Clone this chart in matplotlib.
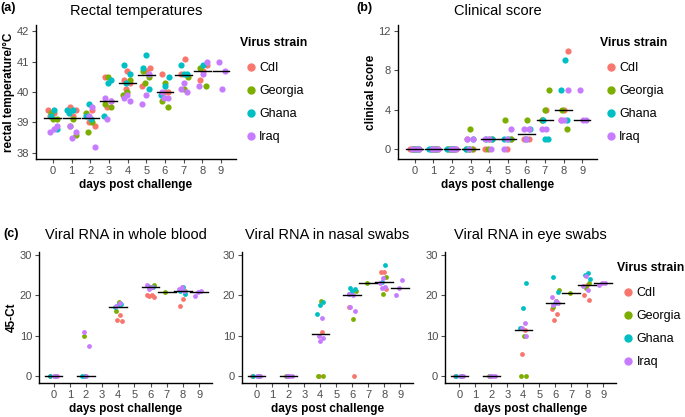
import matplotlib
matplotlib.use('Agg')
import matplotlib.pyplot as plt
from matplotlib.lines import Line2D
import numpy as np

plt.rcParams['font.family'] = ['Liberation Sans', 'DejaVu Sans']

strains = ['CdI', 'Georgia', 'Ghana', 'Iraq']
colors = ['#F8766D', '#7CAE00', '#00BFC4', '#C77CFF']
days = list(range(10))

# (a) rectal temperatures per day
temp_cdi = {0: [39.4, 39.3, 39.2], 1: [39.5, 39.4, 39.2], 2: [39.4, 39.0, 38.9], 3: [40.5, 39.7, 39.5],
            4: [40.7, 40.4, 40.3, 40.1], 5: [40.8, 40.7, 40.2], 6: [40.6, 40.0, 40.0], 7: [41.1, 40.6],
            8: [40.9, 40.7, 40.4]}
temp_georgia = {0: [39.3, 39.1, 39.1], 1: [39.1, 38.9, 38.6], 2: [39.3, 39.0, 38.7], 3: [40.5, 39.6, 39.5],
                4: [40.4, 40.0, 39.9], 5: [40.7, 40.5, 40.3], 6: [40.3, 39.7, 39.5], 7: [40.5, 40.1],
                8: [40.8, 40.2]}
temp_ghana = {0: [39.4, 39.2, 38.8], 1: [39.4, 39.4, 39.3], 2: [39.6, 39.2, 39.1], 3: [40.4, 40.3, 39.2],
              4: [40.9, 40.6, 40.3], 5: [41.2, 40.8, 40.1], 6: [40.5, 40.2, 39.9], 7: [40.9, 40.6, 40.6],
              8: [40.9]}
temp_iraq = {0: [38.9, 38.8, 38.7], 1: [38.9, 38.7, 38.5], 2: [39.5, 39.2, 38.2], 3: [39.8, 39.7, 39.1],
             4: [39.9, 39.8, 39.7], 5: [40.6, 39.9, 39.6], 6: [40.0, 39.8, 39.8], 7: [40.3, 40.1, 40.0],
             8: [41.0, 40.6, 40.2], 9: [41.0, 40.7, 40.1]}

# (b) clinical score
score_cdi = {0: [0, 0, 0], 1: [0, 0, 0], 2: [0, 0, 0], 3: [1, 0, 0], 4: [1, 0], 5: [1, 0], 6: [1, 1],
             7: [4, 3], 8: [10, 4, 3]}
score_georgia = {0: [0, 0, 0], 1: [0, 0, 0], 2: [0, 0, 0], 3: [2, 0, 0], 4: [1, 0], 5: [3, 1], 6: [3],
                 7: [6, 4, 3], 8: [4, 2]}
score_ghana = {0: [0, 0, 0], 1: [0, 0, 0], 2: [0, 0, 0], 3: [1, 0, 0], 4: [1, 1], 5: [1, 1], 6: [2, 1],
               7: [3, 1, 1], 8: [9, 6, 3]}
score_iraq = {0: [0, 0, 0], 1: [0, 0, 0], 2: [0, 0, 0], 3: [1, 1, 0], 4: [1, 1, 0], 5: [2, 1, 0],
              6: [2, 2, 1], 7: [2, 2], 8: [6, 3, 3], 9: [6, 3, 3]}

# (c) viral RNA, 45-Ct
blood_cdi = {0: [0, 0], 2: [0], 4: [15.0, 14.0, 13.7], 6: [20.2, 20.0, 19.8, 19.5], 8: [19.1, 17.3]}
blood_georgia = {0: [0], 2: [9.9], 4: [18.3, 16.1], 6: [22.5, 22.0], 7: [20.8], 8: [21.2]}
blood_ghana = {0: [0], 2: [0, 0], 4: [17.8, 17.5, 17.0], 6: [22.3, 22.1], 8: [22.0, 21.0, 20.3]}
blood_iraq = {0: [0, 0], 2: [10.9, 7.4, 0], 4: [18.0, 17.3], 6: [22.7, 22.0, 21.5], 8: [22.0, 21.5, 21.0],
              9: [21.2, 20.8, 19.9]}

nasal_cdi = {0: [0], 2: [0], 4: [11.0, 0], 6: [17.0, 0], 8: [25.9, 25.8, 21.6]}
nasal_georgia = {0: [0], 2: [0], 4: [18.6, 0, 0], 6: [21.0, 14.2], 7: [23.0], 8: [24.6, 20.3]}
nasal_ghana = {0: [0, 0], 2: [0], 4: [18.4, 17.6, 15.4], 6: [21.8, 21.5, 21.2, 20.3], 8: [27.5, 23.4]}
nasal_iraq = {0: [0, 0], 2: [0, 0, 0], 4: [14.4, 9.8, 9.3, 8.7], 6: [20.4, 20.0, 17.0, 16.0],
              8: [24.3, 23.2, 22.0, 21.8], 9: [23.9, 21.8, 20.0]}

eye_cdi = {0: [0], 2: [0], 4: [11.5, 5.3], 6: [16.6, 15.3, 14.0], 8: [22.6, 20.2, 18.8]}
eye_georgia = {0: [0], 2: [0], 4: [10.0, 0, 0], 6: [21.4, 18.5, 17.0], 7: [20.6], 8: [23.2, 21.9]}
eye_ghana = {0: [0, 0], 2: [0], 4: [23.0, 16.9, 12.0], 6: [24.5, 20.8, 18.0], 8: [25.5, 25.0, 24.2]}
eye_iraq = {0: [0, 0], 2: [0, 0, 0], 4: [13.2, 11.8, 9.8], 6: [19.5, 18.5, 17.5, 18.0],
            8: [24.8, 22.4, 21.3], 9: [23.2, 23.0, 22.5]}

W, H = 685, 417
fig = plt.figure(figsize=(W / 100, H / 100), dpi=100)


def box(left, top, right, bottom):
    return [left / W, 1 - bottom / H, (right - left) / W, (bottom - top) / H]


def panel(rect, groups, ylim, yticks, title, ylabel, half, size, tpad):
    ax = fig.add_axes(rect)
    k = 0
    pooled = {}
    for groups_i, col in zip(groups, colors):
        for d, vals in groups_i.items():
            n = len(vals)
            # fixed jitter pattern so points spread around the day
            off = ((np.arange(n) * 0.618 + k * 0.37) % 1 - 0.5) * 0.5
            k += 1
            ax.scatter(d + off, vals, s=size, color=col, linewidths=0, zorder=2)
            pooled.setdefault(d, []).extend(vals)
    for d, vals in pooled.items():
        m = np.median(vals)
        ax.plot([d - half, d + half], [m, m], color='black', lw=1.0, zorder=3)
    ax.set_xlim(-0.9, 9.8)
    ax.set_ylim(*ylim)
    ax.set_xticks(days)
    ax.set_yticks(yticks)
    for s in ['top', 'right']:
        ax.spines[s].set_visible(False)
    for s in ['left', 'bottom']:
        ax.spines[s].set_linewidth(1.0)
    ax.tick_params(labelsize=8, colors='#4D4D4D', length=3, width=0.8, pad=2)
    ax.set_xlabel('days post challenge', fontsize=8.5, fontweight='bold', labelpad=2)
    if ylabel:
        ax.set_ylabel(ylabel, fontsize=8.5, fontweight='bold', labelpad=1)
    ax.set_title(title, fontsize=10.5, pad=tpad)
    return ax


def legend(ax, x, y):
    # title drawn separately so the keys sit indented under it, as in ggplot
    fig.text(x / W, 1 - y / H, 'Virus strain', fontsize=8.8, fontweight='bold', va='center', ha='left')
    handles = [Line2D([], [], marker='o', ls='', color=c, markersize=5) for c in colors]
    ax.legend(handles, strains, loc='upper left',
              bbox_to_anchor=((x + 5) / W, 1 - (y + 19) / H), bbox_transform=fig.transFigure,
              frameon=False, fontsize=9, labelspacing=0.88, handletextpad=0.15, handlelength=1.0,
              borderpad=0, borderaxespad=0)


ax_a = panel(box(36, 25, 236, 159), [temp_cdi, temp_georgia, temp_ghana, temp_iraq],
             (37.8, 42.2), [38, 39, 40, 41, 42], 'Rectal temperatures', 'rectal temperature/\u00b0C',
             0.45, 20, 7)
legend(ax_a, 240, 43)

ax_b = panel(box(398, 25, 597, 159), [score_cdi, score_georgia, score_ghana, score_iraq],
             (-1.0, 12.6), [0, 4, 8, 12], 'Clinical score', 'clinical score', 0.45, 20, 7)
legend(ax_b, 600, 43)

ax_c1 = panel(box(39, 252, 212, 383), [blood_cdi, blood_georgia, blood_ghana, blood_iraq],
              (-1.8, 30.8), [0, 10, 20, 30], 'Viral RNA in whole blood', '45-Ct', 0.55, 12, 9)
ax_c2 = panel(box(242, 252, 413, 383), [nasal_cdi, nasal_georgia, nasal_ghana, nasal_iraq],
              (-1.8, 30.8), [0, 10, 20, 30], 'Viral RNA in nasal swabs', None, 0.55, 12, 9)
ax_c3 = panel(box(445, 252, 616, 383), [eye_cdi, eye_georgia, eye_ghana, eye_iraq],
              (-1.8, 30.8), [0, 10, 20, 30], 'Viral RNA in eye swabs', None, 0.55, 12, 9)
legend(ax_c3, 617, 268)

fig.text(0 / W, 1 - 8 / H, '(a)', fontsize=9, fontweight='bold', va='center', ha='left')
fig.text(356 / W, 1 - 8 / H, '(b)', fontsize=9, fontweight='bold', va='center', ha='left')
fig.text(3 / W, 1 - 234 / H, '(c)', fontsize=9, fontweight='bold', va='center', ha='left')

fig.savefig('out.png', dpi=100)
